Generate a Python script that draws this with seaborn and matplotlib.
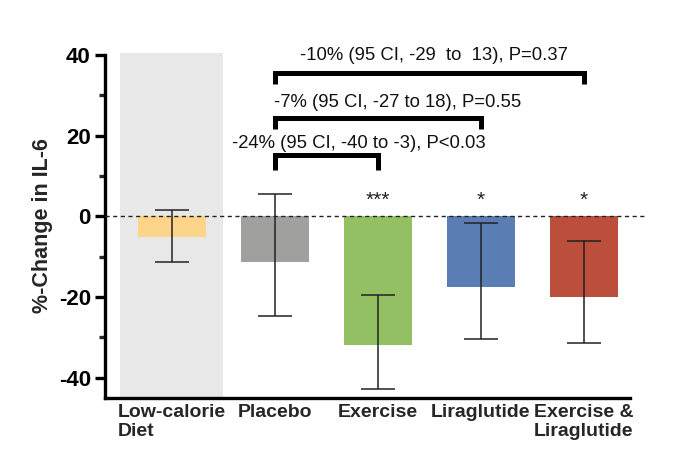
import numpy as np
import pandas as pd
import matplotlib
matplotlib.use("Agg")
import matplotlib.pyplot as plt
import seaborn as sns
from matplotlib.ticker import MultipleLocator

categories = ["Low-calorie\nDiet", "Placebo", "Exercise", "Liraglutide", "Exercise &\nLiraglutide"]
means = [-5.2, -11.2, -32.0, -17.4, -19.9]
ci_upper = [1.5, 5.5, -19.4, -1.7, -6.2]
ci_lower = [-11.4, -24.8, -42.7, -30.5, -31.5]
stars = ["", "", "***", "*", "*"]
colors = ["#FCD48A", "#A0A09E", "#94C064", "#5A7DB4", "#BC4F3C"]

comparisons = [
    (1, 2, 15.1, 11.4, "-24% (95 CI, -40 to -3), P<0.03", 1.82, 18.0),
    (1, 3, 24.3, 21.6, "-7% (95 CI, -27 to 18), P=0.55", 2.19, 28.3),
    (1, 4, 35.5, 32.8, "-10% (95 CI, -29  to  13), P=0.37", 2.55, 39.8),
]

sns.set_theme(style="white")
plt.rcParams['font.family'] = ['Liberation Sans', 'DejaVu Sans']
plt.rcParams['axes.unicode_minus'] = False

df = pd.DataFrame({"group": categories, "value": means})

fig = plt.figure(figsize=(6.8, 4.59), dpi=100)
ax = fig.add_axes([0.154, 0.133, 0.797, 0.752])

ax.axvspan(-0.5, 0.5, ymin=0, ymax=1, color="#E8E8E8", zorder=0, lw=0)

sns.barplot(data=df, x="group", y="value", hue="group", palette=colors,
            width=0.66, errorbar=None, legend=False, ax=ax, zorder=2,
            saturation=1, linewidth=0, edgecolor="none")

x = np.arange(len(categories))
m = np.array(means)
yerr = np.vstack([m - np.array(ci_lower), np.array(ci_upper) - m])
ax.errorbar(x, m, yerr=yerr, fmt="none", ecolor="#222222", elinewidth=1.1,
            capsize=12, capthick=1.1, zorder=3)

ax.axhline(0, color="#222222", lw=1.0, ls=(0, (3, 2.5)), zorder=4)

for i, s in enumerate(stars):
    if s:
        ax.text(i, 1.5, s, ha="center", va="bottom", fontsize=15, color="#222222")

for a, b, yh, yl, label, xt, yt in comparisons:
    ax.plot([a, a, b, b], [yl, yh, yh, yl], color="black", lw=3.6,
            solid_joinstyle="miter", solid_capstyle="butt", zorder=5, clip_on=False)
    ax.text(xt, yt, label, ha="center", va="center", fontsize=13.3, color="#111111")

ax.set_xlim(-0.65, 4.61)
ax.set_ylim(-45, 40.5)
ax.spines["top"].set_visible(False)
ax.spines["right"].set_visible(False)
for sp in ("left", "bottom"):
    ax.spines[sp].set_linewidth(2.4)
    ax.spines[sp].set_color("black")
ax.spines["bottom"].set_bounds(-0.65, 4.45)
ax.spines["left"].set_bounds(-45, 40)

ax.yaxis.set_major_locator(MultipleLocator(20))
ax.yaxis.set_minor_locator(MultipleLocator(10))
ax.tick_params(axis="y", which="major", direction="out", length=7, width=2.4,
               labelsize=16, left=True, colors="black", pad=3)
ax.tick_params(axis="y", which="minor", direction="out", length=4, width=2.4, left=True)
ax.tick_params(axis="x", length=0, labelsize=14, pad=4)
for lbl in ax.get_yticklabels():
    lbl.set_fontweight("bold")
for lbl in ax.get_xticklabels():
    lbl.set_fontweight("bold")
    lbl.set_multialignment("left")
    lbl.set_verticalalignment("top")

ax.set_xlabel("")
ax.set_ylabel("%-Change in IL-6", fontsize=15.5, fontweight="bold", labelpad=4)

fig.savefig("out.png", dpi=100)
